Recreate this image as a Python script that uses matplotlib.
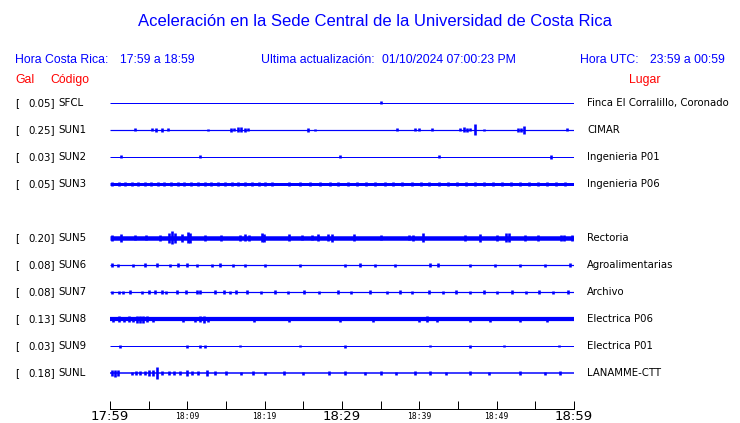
import matplotlib
matplotlib.use("Agg")
import matplotlib.pyplot as plt
from matplotlib.transforms import blended_transform_factory

# ---------------- data ----------------
codes = ["SFCL", "SUN1", "SUN2", "SUN3", "SUN5", "SUN6", "SUN7", "SUN8", "SUN9", "SUNL"]
rows = [0, 1, 2, 3, 5, 6, 7, 8, 9, 10]
gal = [0.05, 0.25, 0.03, 0.05, 0.20, 0.08, 0.08, 0.13, 0.03, 0.18]
places = ["Finca El Corralillo, Coronado", "CIMAR", "Ingenieria P01", "Ingenieria P06",
          "Rectoria", "Agroalimentarias", "Archivo", "Electrica P06", "Electrica P01",
          "LANAMME-CTT"]
# baseline noise band thickness (px)
band = [1, 1.2, 1, 3, 4.5, 1.2, 1.2, 4.2, 1, 1.5]

# burst times (minutes after 17:59) and half-amplitudes (px)
sfcl_t = [35.0]
sfcl_a = [1.5]
sun1_t = [3.2, 5.4, 6.0, 6.7, 7.5, 12.7, 15.6, 16.0, 16.6, 17.0, 17.4, 17.9, 25.6, 26.5,
          37.1, 39.4, 40.0, 41.7, 45.3, 45.8, 46.2, 46.6, 47.2, 48.3, 52.8, 53.1, 53.5, 59.1]
sun1_a = [1.5, 1.5, 2, 2, 1.5, 1, 2, 1.5, 2.5, 2.5, 2, 1.5, 2, 1, 1.5, 1.5, 1.5, 1.5,
          1.5, 2.5, 2, 1.5, 5.5, 1, 2, 2, 4, 1.5]
sun2_t = [1.4, 11.7, 29.7, 42.5, 57.0]
sun2_a = [1.5, 1.5, 1.5, 1.5, 2]
sun3_t = [0.3, 1.2, 2.0, 2.9, 3.6, 4.5, 5.3, 6.2, 7.0, 7.9, 8.8, 9.6, 10.5, 11.4, 12.3,
          13.1, 14.0, 14.9, 15.8, 16.6, 17.5, 18.4, 19.3, 20.1, 21.0, 23.2, 24.6, 25.9,
          27.2, 28.4, 29.5, 30.8, 32.0, 33.1, 34.3, 35.5, 36.6, 37.8, 39.0, 40.2, 41.3,
          42.5, 43.7, 44.9, 46.0, 47.2, 48.3, 49.5, 50.7, 51.8, 53.0, 54.2, 55.4, 56.5,
          57.7, 58.9]
sun3_a = [2] * len(sun3_t)
sun5_t = [0.2, 1.4, 3.2, 4.7, 6.5, 7.6, 8.0, 8.4, 9.3, 10.1, 10.4, 12.3, 14.4, 16.8, 17.5,
          18.0, 19.6, 19.9, 23.1, 24.8, 26.1, 26.9, 28.2, 28.7, 31.5, 35.1, 38.6, 39.2,
          40.5, 45.9, 47.8, 50.0, 51.2, 51.6, 53.7, 55.4, 58.3, 58.7, 59.7]
sun5_a = [3, 4, 2.5, 2.5, 3, 5, 6.5, 5, 4, 5.5, 5, 3, 3, 3, 3.5, 3, 4.5, 4, 3.5, 2.5, 2.5,
          3.5, 3.5, 4, 3.5, 2.5, 2.5, 3, 4.5, 3, 4, 3, 4.5, 4.5, 3, 3, 3, 3, 3]
sun6_t = [0.2, 1.0, 3.0, 4.5, 6.1, 7.8, 8.8, 10.0, 11.3, 13.2, 14.2, 15.9, 17.5, 20.0,
          24.6, 30.4, 32.3, 34.3, 36.9, 41.4, 42.4, 46.6, 49.8, 53.0, 56.3, 59.5]
sun6_a = [2, 1.5, 1.5, 2, 2, 1.5, 2, 2, 1.5, 1.5, 2, 1.5, 1.5, 1.5, 1.5, 1.5, 2, 1.5,
          1.5, 2, 2, 1.5, 1.5, 1.5, 1.5, 2]
sun7_t = [0.2, 1.1, 1.7, 2.6, 4.1, 5.0, 5.8, 6.7, 7.3, 8.6, 9.8, 11.2, 11.6, 13.6, 14.8,
          15.5, 16.3, 17.7, 19.5, 21.3, 23.0, 25.1, 27.0, 29.5, 31.2, 33.6, 35.8, 37.5,
          39.0, 41.2, 43.0, 44.7, 46.5, 48.3, 50.1, 52.0, 53.8, 55.5, 57.3, 59.2]
sun7_a = [1.5, 1.5, 1.5, 2, 1.5, 2, 2, 2, 1.5, 2, 2, 2, 2, 2, 2, 1.5, 2, 2, 1.5, 2, 1.5,
          2, 1.5, 2, 1.5, 2, 1.5, 2, 1.5, 2, 1.5, 2, 1.5, 2, 1.5, 2, 1.5, 2, 1.5, 2]
sun8_t = [0.4, 1.1, 1.8, 2.4, 3.0, 3.5, 3.9, 4.3, 4.8, 5.5, 9.4, 11.0, 11.6, 12.2, 12.7,
          18.6, 23.2, 29.8, 34.0, 40.0, 41.0, 42.3, 46.5, 49.2, 53.0, 56.5]
sun8_a = [2.5, 3, 2.5, 3, 2.5, 3.5, 3.5, 3.5, 3, 2.5, 2.5, 2.5, 3, 3.5, 2.5, 2.5, 2.5,
          2.5, 2.5, 2.5, 3, 2.5, 2.5, 2.5, 2.5, 2.5]
sun9_t = [1.3, 9.9, 11.6, 12.3, 16.8, 24.6, 30.4, 41.4, 46.6, 51.0, 58.0]
sun9_a = [1.5, 1.5, 1.5, 1.5, 1, 1, 1.5, 1, 1.5, 1, 1]
sunl_t = [0.3, 0.7, 1.0, 2.9, 3.4, 3.9, 4.5, 5.1, 5.6, 6.1, 6.7, 7.6, 8.3, 9.0, 9.9,
          10.6, 11.4, 12.5, 13.6, 15.0, 17.0, 18.5, 20.0, 22.5, 25.0, 28.3, 30.4, 33.0,
          35.0, 37.0, 39.5, 41.4, 43.5, 46.6, 49.0, 53.0, 56.3, 58.2]
sunl_a = [3, 3.5, 3, 1.5, 2, 2, 2, 2.5, 2.5, 6, 2, 2, 2, 2, 2.5, 2, 2, 2.5, 2, 2, 1.5,
          2, 1.5, 2, 1.5, 2, 2, 1.5, 2, 1.5, 2, 2, 1.5, 2, 1.5, 2, 1.5, 2]

bursts_t = [sfcl_t, sun1_t, sun2_t, sun3_t, sun5_t, sun6_t, sun7_t, sun8_t, sun9_t, sunl_t]
bursts_a = [sfcl_a, sun1_a, sun2_a, sun3_a, sun5_a, sun6_a, sun7_a, sun8_a, sun9_a, sunl_a]

tick_minutes = [0, 5, 10, 15, 20, 25, 30, 35, 40, 45, 50, 55, 60]
tick_labels = ["17:59", "", "18:09", "", "18:19", "", "18:29", "", "18:39", "", "18:49", "", "18:59"]
big_labels = ["17:59", "18:29", "18:59"]

title = "Aceleración en la Sede Central de la Universidad de Costa Rica"

# ---------------- layout ----------------
W, H = 740, 423
DPI = 100
fig = plt.figure(figsize=(W / DPI, H / DPI), dpi=DPI)
fig.patch.set_facecolor("white")

BLUE = "#0000ff"
RED = "#ff0000"
ROW_PX = 27.0
px2pt = 72.0 / DPI

x0, x1 = 110, 574
ytop, ybot = 90, 409
ax = fig.add_axes([x0 / W, (H - ybot) / H, (x1 - x0) / W, (ybot - ytop) / H])
ax.set_xlim(0, 60)
row0_px = 103
ax.set_ylim((ybot - row0_px) / ROW_PX, (ytop - row0_px) / ROW_PX)
for s in ["top", "left", "right"]:
    ax.spines[s].set_visible(False)
ax.spines["bottom"].set_linewidth(1.0 * px2pt)
ax.set_yticks([])
ax.set_xticks(tick_minutes)
ax.set_xticklabels(tick_labels)
ax.tick_params(axis="x", direction="in", length=8 * px2pt, width=1.0 * px2pt, pad=1)
for lab in ax.get_xticklabels():
    if lab.get_text() in big_labels:
        lab.set_fontsize(9.5)
        lab.set_family("DejaVu Sans")
    else:
        lab.set_fontsize(5.8)
        lab.set_family("DejaVu Sans Mono")
        lab.set_y(-0.004)

for r, bw, bt, ba in zip(rows, band, bursts_t, bursts_a):
    ax.hlines(r, 0, 60, color=BLUE, linewidth=bw * px2pt, capstyle="butt")
    lo = [r - a / ROW_PX for a in ba]
    hi = [r + a / ROW_PX for a in ba]
    ax.vlines(bt, lo, hi, color=BLUE, linewidth=2.6 * px2pt)

# left and right labels
trans = blended_transform_factory(fig.transFigure, ax.transData)
for r, g, c, p in zip(rows, gal, codes, places):
    fig.text(15 / W, r, "[", transform=trans, ha="left", va="center",
             fontsize=7.4, family="DejaVu Sans")
    fig.text(55 / W, r, f"{g:.2f}]", transform=trans, ha="right", va="center",
             fontsize=7.4, family="DejaVu Sans")
    fig.text(58 / W, r, c, transform=trans, ha="left", va="center",
             fontsize=7.4, family="DejaVu Sans")
    fig.text(587 / W, r, p, transform=trans, ha="left", va="center",
             fontsize=7.3, family="DejaVu Sans")

# header texts
def ft(xpx, ypx, s, **kw):
    fig.text(xpx / W, 1 - ypx / H, s, va="center", family="Liberation Sans", **kw)

ft(375, 22, title, ha="center", fontsize=12, color=BLUE)
ft(15, 60, "Hora Costa Rica:", ha="left", fontsize=8.8, color=BLUE)
ft(120, 60, "17:59 a 18:59", ha="left", fontsize=8.8, color=BLUE)
ft(261, 60, "Ultima actualización:", ha="left", fontsize=8.8, color=BLUE)
ft(382, 60, "01/10/2024 07:00:23 PM", ha="left", fontsize=8.8, color=BLUE)
ft(580, 60, "Hora UTC:", ha="left", fontsize=8.8, color=BLUE)
ft(650, 60, "23:59 a 00:59", ha="left", fontsize=8.8, color=BLUE)
ft(15, 80, "Gal", ha="left", fontsize=8.8, color=RED)
ft(50, 80, "Código", ha="left", fontsize=8.8, color=RED)
ft(629, 80, "Lugar", ha="left", fontsize=8.8, color=RED)

fig.savefig("out.png", dpi=DPI)
